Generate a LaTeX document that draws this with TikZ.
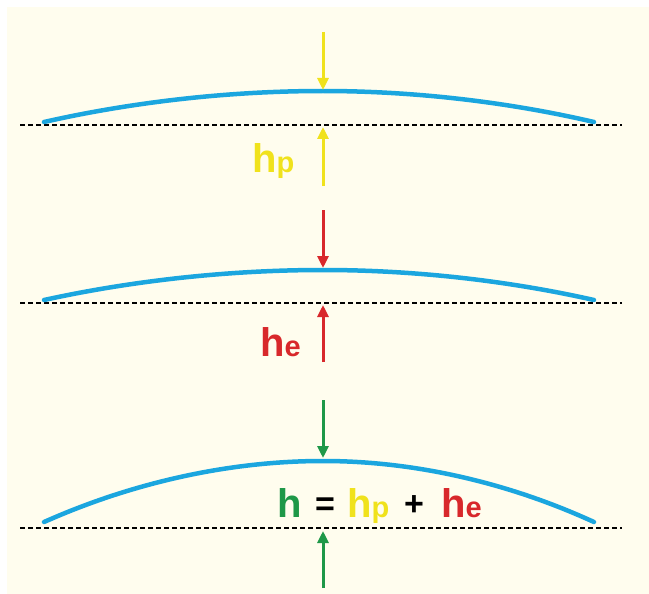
\documentclass[tikz,border=0pt]{standalone}
\usepackage{fontspec}
\setmainfont{Liberation Sans}
\usetikzlibrary{arrows.meta}
\definecolor{cream}{HTML}{FFFDEE}
\definecolor{sky}{HTML}{1BA6DF}
\definecolor{yel}{HTML}{F0E21C}
\definecolor{redc}{HTML}{D8282B}
\definecolor{grn}{HTML}{1E9848}
\tikzset{
  arc/.style={sky, line width=4.5pt, line cap=round},
  base/.style={black, line width=1.7pt, dash pattern=on 5pt off 3pt},
  arr/.style={line width=3pt, -{Triangle[width=11pt,length=12pt]}},
  lbl/.style={inner sep=0pt, anchor=base west, font=\bfseries},
}
\newcommand{\bigh}[1]{{\fontsize{40}{40}\selectfont #1}}
\newcommand{\smallp}[1]{{\fontsize{29}{29}\selectfont #1}}
\newcommand{\opsym}[1]{{\fontsize{34}{34}\selectfont #1}}
\begin{document}
\begin{tikzpicture}[x=1pt,y=-1pt]
\useasboundingbox (0,0) rectangle (649,594);
\fill[cream] (7,7) rectangle (649,594);

% panel 1
\draw[base] (20,125) -- (622,125);
\draw[arc] (44,122) parabola bend (323,91) (594,122);
\coordinate (y1s) at (323,32); \coordinate (y1e) at (323,90);
\coordinate (y2s) at (323,186); \coordinate (y2e) at (323,127);
\draw[arr, yel] (y1s) -- (y1e);
\draw[arr, yel] (y2s) -- (y2e);
\node[lbl, yel] (hp) at (252,172) {\bigh{h}\smallp{p}};

% panel 2
\draw[base] (20,303) -- (622,303);
\draw[arc] (44,300) parabola bend (323,270) (594,300);
\coordinate (r1s) at (323,210); \coordinate (r1e) at (323,268);
\coordinate (r2s) at (323,362); \coordinate (r2e) at (323,305);
\draw[arr, redc] (r1s) -- (r1e);
\draw[arr, redc] (r2s) -- (r2e);
\node[lbl, redc] (he) at (260,356) {\bigh{h}\smallp{e}};

% panel 3
\draw[base] (20,528) -- (622,528);
\draw[arc] (44,522) parabola bend (323,461) (594,522);
\coordinate (g1s) at (323,400); \coordinate (g1e) at (323,458);
\coordinate (g2s) at (323,588); \coordinate (g2e) at (323,531);
\draw[arr, grn] (g1s) -- (g1e);
\draw[arr, grn] (g2s) -- (g2e);
\node[lbl, grn] (h) at (277,517) {\bigh{h}};
\node[lbl, black] (eq) at (315,515) {\opsym{=}};
\node[lbl, black] (plus) at (404,515) {\opsym{+}};
\node[lbl, yel] (hp2) at (347,517) {\bigh{h}\smallp{p}};
\node[lbl, redc] (he2) at (441,517) {\bigh{h}\smallp{e}};
\end{tikzpicture}
\end{document}
